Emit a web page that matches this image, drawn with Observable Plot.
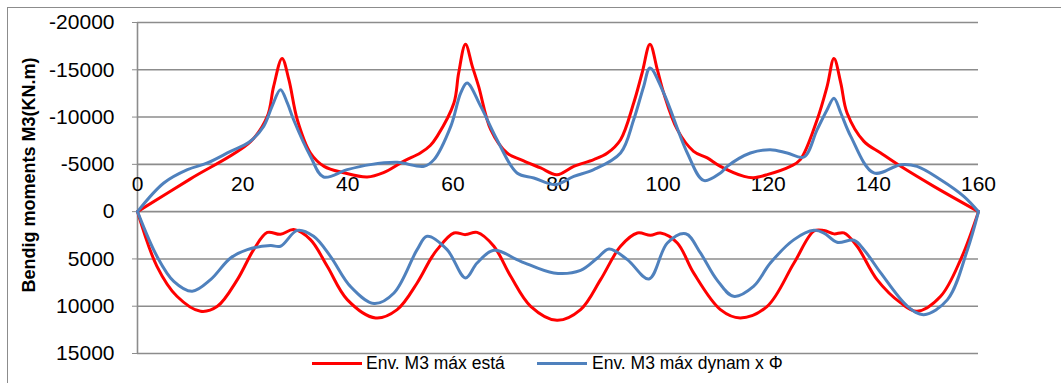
<!DOCTYPE html>
<html><head><meta charset="utf-8">
<script src="https://cdn.jsdelivr.net/npm/d3@7"></script>
<script src="https://cdn.jsdelivr.net/npm/@observablehq/plot@0.6"></script>
<style>
html,body{margin:0;padding:0;background:#fff;overflow:hidden;width:1061px;height:383px;}
#wrap{position:relative;width:1061px;height:383px;font-family:"Liberation Sans",Arial,sans-serif;color:#000;overflow:hidden;}
#border{position:absolute;left:7px;top:7px;width:1100px;height:420px;border:1.5px solid #8c8c8c;box-sizing:border-box;}
#chart{position:absolute;left:0;top:0;}
#ylabel{position:absolute;left:29px;top:175px;transform:translate(-50%,-50%) rotate(-90deg);font-weight:bold;font-size:18px;white-space:nowrap;}
.sw{position:absolute;height:3px;width:50px;top:362px;}
.lt{position:absolute;top:352px;font-size:17.5px;line-height:22px;white-space:nowrap;}
</style></head>
<body><div id="wrap"><div id="border"></div><div id="chart"></div>
<div id="ylabel"></div>
<div class="sw" style="left:312px;background:#ff0000"></div><div class="lt" id="l1" style="left:366px"></div>
<div class="sw" style="left:537px;background:#4f81bd"></div><div class="lt" id="l2" style="left:592px"></div>
</div>
<script>
const yLabel = "Bendig moments M3(KN.m)";
const seriesNames = ["Env. M3 máx está", "Env. M3 máx dynam x Φ"];
const yTicks = [-20000, -15000, -10000, -5000, 0, 5000, 10000, 15000];
const xTicks = [0, 20, 40, 60, 80, 100, 120, 140, 160];

// Static envelope (red) - hogging (negative) part
const redTopX = [0, 10, 21.5, 24.7, 25.9, 27.5, 28.8, 30.4, 32.9, 35.5, 39.2, 43.7, 46.8, 50.6, 53.8, 55.7, 57, 60.2, 61.1, 62.4, 63.7, 64.9, 67.2, 70.3, 72.9, 76.7, 79.8, 83, 86.8, 89.4, 91.9, 94.4, 96, 97.5, 98.9, 100.1, 102.7, 105.8, 108.4, 110.9, 115.4, 117.2, 119.8, 124.2, 126.1, 129.3, 131.2, 132.5, 133.8, 135, 138.2, 141.4, 145.2, 151.5, 160];
const redTopY = [0, -3440, -7400, -10070, -13240, -16200, -13950, -9720, -6200, -4790, -4120, -3660, -4120, -5320, -6200, -7000, -7960, -11490, -14660, -17700, -15360, -13240, -8670, -6200, -5500, -4620, -3910, -4790, -5500, -6200, -7610, -11490, -14660, -17700, -15010, -12550, -8670, -6380, -5680, -4790, -3730, -3590, -3910, -4790, -5500, -9720, -13240, -16200, -13600, -10430, -7430, -6200, -4790, -2670, 0];
// Static envelope (red) - sagging (positive) part
const redBotX = [0, 3.7, 7.5, 12, 15.2, 19, 22.1, 24.7, 27.2, 29.7, 32.9, 36.1, 39.9, 45.3, 49.4, 53.2, 55.7, 57, 60.2, 62.4, 64.6, 67.8, 71, 74.8, 79.8, 84.3, 88.1, 91.9, 95.1, 97.6, 99.5, 102.7, 105.8, 110.9, 114.7, 119.8, 124.9, 128.7, 130.6, 132.5, 134.4, 136.9, 140.7, 145.2, 148.3, 152.8, 156.6, 160];
const redBotY = [0, 5780, 8950, 10540, 10010, 7190, 4020, 2200, 2400, 1900, 2960, 5780, 9300, 11240, 10360, 7540, 5070, 4020, 2260, 2430, 2190, 3660, 6840, 10010, 11490, 10360, 7190, 3660, 2260, 2500, 2260, 3310, 6480, 10360, 11240, 10010, 5430, 2050, 2000, 2350, 2250, 3660, 7190, 9650, 10540, 8950, 5070, 0];

// Dynamic envelope x Φ (blue) - negative part
const blueTopX = [0, 5, 9.5, 13.3, 17.7, 21.2, 24, 25.6, 27.2, 28.5, 29.7, 32.9, 35.4, 39.9, 44.3, 49.4, 54.5, 56.4, 59.6, 61.5, 62.7, 65.3, 68.4, 72.2, 75.4, 79.5, 83, 86.8, 91.9, 94.4, 96.3, 97.5, 100.1, 104.6, 107.7, 110.9, 112.2, 116.6, 120.4, 123.6, 126.8, 129.3, 131.2, 132.5, 133.8, 135.7, 140.1, 145.2, 148.3, 152.8, 157.2, 160];
const blueTopY = [0, -3030, -4440, -5150, -6370, -7330, -9020, -11130, -12900, -11490, -9720, -5850, -3660, -4440, -4970, -5210, -4790, -5500, -9020, -12550, -13600, -11130, -7610, -4090, -3560, -2850, -3730, -4440, -6200, -9720, -13240, -15200, -12550, -6200, -3300, -4090, -4790, -6200, -6550, -6200, -5780, -8670, -10780, -12000, -10430, -7960, -4090, -4970, -4790, -3380, -1620, 0];
// Dynamic envelope x Φ (blue) - positive part
const blueBotX = [0, 3.7, 6.9, 10.4, 13.9, 17.7, 20.9, 25.3, 27.2, 30.4, 33.5, 36.7, 40.5, 45, 48.8, 53.2, 55.1, 58.9, 62.4, 64.6, 67.8, 72.9, 79.2, 84.3, 87.5, 89.7, 93.2, 97.3, 100.8, 104.3, 107.1, 110.2, 113.4, 117.2, 120.4, 124.9, 128.7, 130.6, 133.1, 136.3, 138.2, 141.4, 146.5, 149.6, 154.1, 157.9, 160];
const blueBotY = [0, 4720, 7370, 8420, 7190, 4900, 4020, 3590, 3660, 1980, 2610, 4720, 7900, 9720, 8600, 4020, 2610, 4020, 7010, 5430, 4090, 5250, 6480, 6200, 4900, 3950, 5070, 7120, 3310, 2330, 4370, 7190, 8950, 7900, 5430, 2960, 1980, 2260, 3240, 3030, 4020, 6480, 10010, 10890, 9300, 4020, 0];

const rows = [];
function add(xs, ys, s, part) { xs.forEach((x, i) => rows.push({x, y: ys[i], s, part})); }
add(redTopX, redTopY, "red", "top");
add(redBotX, redBotY, "red", "bot");
add(blueTopX, blueTopY, "blue", "top");
add(blueBotX, blueBotY, "blue", "bot");

const font = '"Liberation Sans", Arial, sans-serif';
const grid = "#8c8c8c";
const chart = Plot.plot({
  width: 1061, height: 383,
  marginLeft: 137, marginRight: 83, marginTop: 22, marginBottom: 30,
  x: {domain: [0, 160], axis: null},
  y: {domain: [-20000, 15000], reverse: true},
  style: {fontFamily: font, fontSize: "21px", color: "#000", background: "transparent"},
  marks: [
    Plot.ruleY(yTicks, {stroke: grid, strokeWidth: 1.6}),
    Plot.ruleX([0], {stroke: grid, strokeWidth: 1.6}),
    Plot.axisY(yTicks, {tickSize: 5, tickPadding: 18, tickFormat: d => String(d), fontSize: 21, stroke: grid, label: null}),
    Plot.text(xTicks, {x: d => d, y: () => 0, dy: -27, text: d => String(d), fontSize: 21, fill: "#000"}),
    Plot.line(rows.filter(d => d.s === "red"), {x: "x", y: "y", z: "part", stroke: "#ff0000", strokeWidth: 3, curve: "catmull-rom"}),
    Plot.line(rows.filter(d => d.s === "blue"), {x: "x", y: "y", z: "part", stroke: "#4f81bd", strokeWidth: 3, curve: "catmull-rom"})
  ]
});
document.getElementById("chart").appendChild(chart);
document.getElementById("ylabel").textContent = yLabel;
document.getElementById("l1").textContent = seriesNames[0];
document.getElementById("l2").textContent = seriesNames[1];
</script>
</body></html>
